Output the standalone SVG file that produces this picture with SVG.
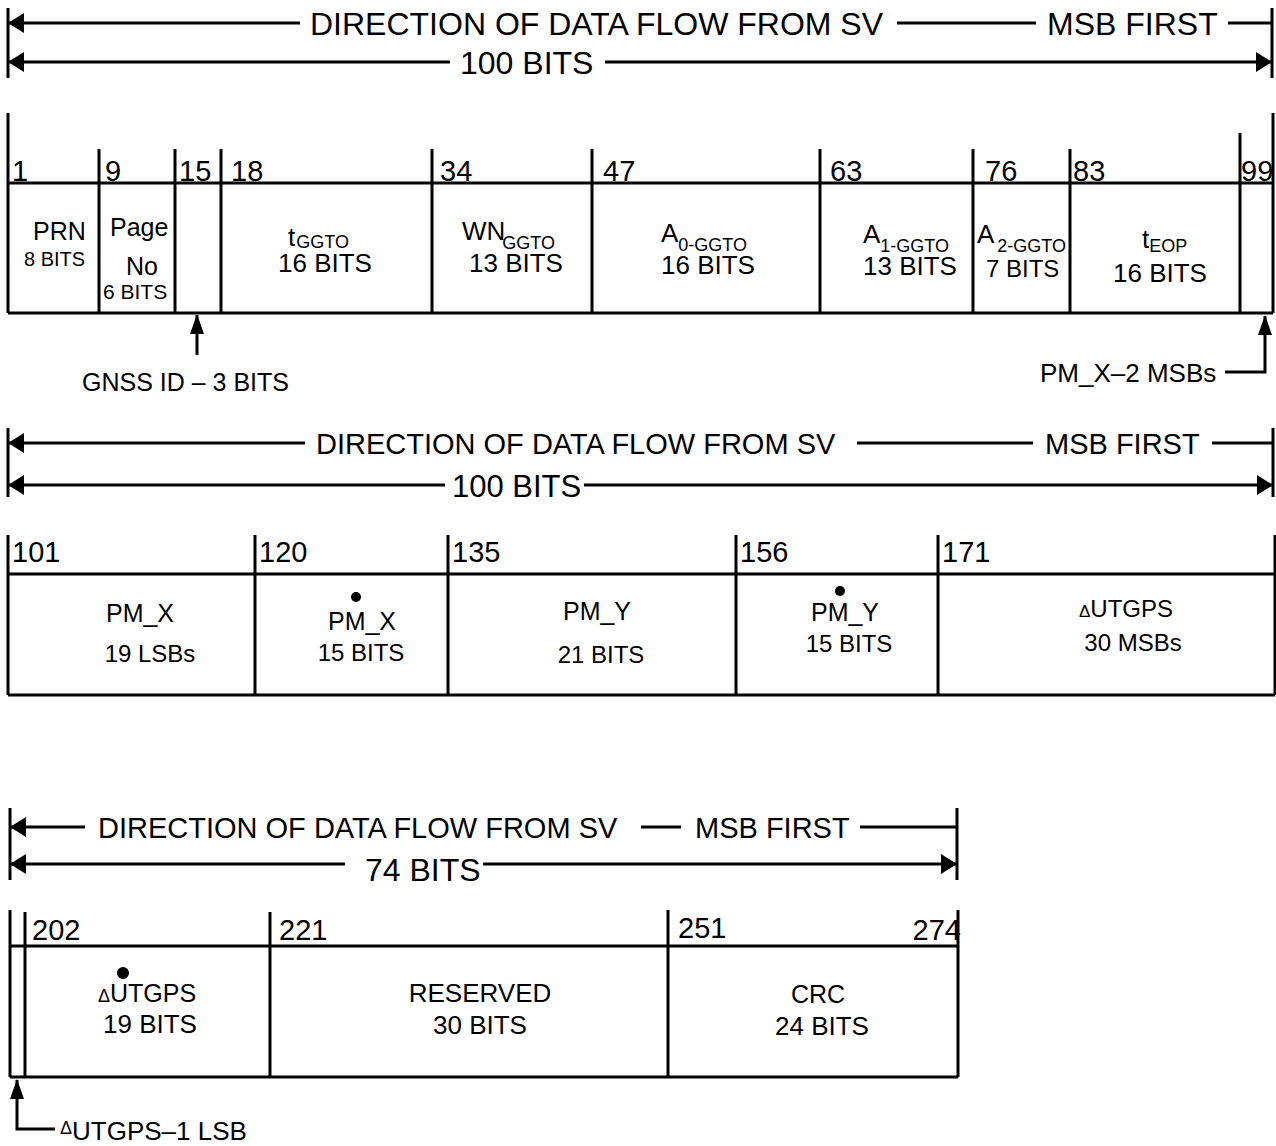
<svg xmlns="http://www.w3.org/2000/svg" width="1276" height="1146" viewBox="0 0 1276 1146">
<style>
.ln{stroke:#000;stroke-width:3;fill:none}
.t{font-family:"Liberation Sans",Arial,sans-serif;fill:#000}
.h1{font-size:32px}
.h2{font-size:29px}
.num{font-size:29px}
.c{font-size:26px}
.s{font-size:18px}
.m{text-anchor:middle}
</style>
<defs>
<marker id="ah" viewBox="0 0 16 20" refX="15" refY="10" markerWidth="16" markerHeight="20" orient="auto" markerUnits="userSpaceOnUse"><path d="M0,0 L16,10 L0,20 Z" fill="#000"/></marker>
<marker id="ahs" viewBox="0 0 20 14" refX="19" refY="7" markerWidth="20" markerHeight="14" orient="auto" markerUnits="userSpaceOnUse"><path d="M0,0 L20,7 L0,14 Z" fill="#000"/></marker>
</defs>
<rect width="1276" height="1146" fill="#fff"/>

<g id="connectors">
<line class="ln" x1="8" y1="8" x2="8" y2="78"/>
<line class="ln" x1="1272" y1="8" x2="1272" y2="78"/>
<line class="ln" x1="300" y1="23" x2="9" y2="23" marker-end="url(#ah)"/>
<line class="ln" x1="897" y1="23" x2="1036" y2="23"/>
<line class="ln" x1="1228" y1="23" x2="1272" y2="23"/>
<line class="ln" x1="450" y1="62" x2="9" y2="62" marker-end="url(#ah)"/>
<line class="ln" x1="605" y1="62" x2="1271" y2="62" marker-end="url(#ah)"/>
<line class="ln" x1="197" y1="355" x2="197" y2="315" marker-end="url(#ahs)"/>
<polyline class="ln" points="1225,372 1265,372 1265,316" marker-end="url(#ahs)"/>
<line class="ln" x1="8" y1="428" x2="8" y2="497"/>
<line class="ln" x1="1273" y1="428" x2="1273" y2="497"/>
<line class="ln" x1="305" y1="443" x2="9" y2="443" marker-end="url(#ah)"/>
<line class="ln" x1="857" y1="443" x2="1033" y2="443"/>
<line class="ln" x1="1212" y1="443" x2="1273" y2="443"/>
<line class="ln" x1="445" y1="485" x2="9" y2="485" marker-end="url(#ah)"/>
<line class="ln" x1="584" y1="485" x2="1272" y2="485" marker-end="url(#ah)"/>
<line class="ln" x1="10" y1="808" x2="10" y2="880"/>
<line class="ln" x1="957" y1="808" x2="957" y2="880"/>
<line class="ln" x1="85" y1="827" x2="11" y2="827" marker-end="url(#ah)"/>
<line class="ln" x1="641" y1="827" x2="681" y2="827"/>
<line class="ln" x1="860" y1="827" x2="957" y2="827"/>
<line class="ln" x1="345" y1="864" x2="11" y2="864" marker-end="url(#ah)"/>
<line class="ln" x1="483" y1="864" x2="956" y2="864" marker-end="url(#ah)"/>
<polyline class="ln" points="55,1129 17,1129 17,1080" marker-end="url(#ahs)"/>
</g>

<g id="header1">
<text class="t h1" x="310" y="35">DIRECTION OF DATA FLOW FROM SV</text>
<text class="t h1" x="1047" y="35">MSB FIRST</text>
<text class="t h1" x="460" y="74">100 BITS</text>
</g>

<g id="row1-frame">
<line class="ln" x1="8" y1="113" x2="8" y2="313"/>
<line class="ln" x1="1273" y1="113" x2="1273" y2="313"/>
<line class="ln" x1="8" y1="183" x2="1273" y2="183"/>
<line class="ln" x1="8" y1="313" x2="1273" y2="313"/>
</g>

<g id="cell-prn">
<text class="t num" x="12" y="181">1</text>
<text class="t" style="font-size:25px" x="33" y="240">PRN</text>
<text class="t" style="font-size:20px" x="24" y="266">8 BITS</text>
</g>
<g id="cell-page">
<line class="ln" x1="99" y1="149" x2="99" y2="313"/>
<text class="t num" x="105" y="181">9</text>
<text class="t" style="font-size:25px" x="110" y="236">Page</text>
<text class="t" style="font-size:25px" x="126" y="275">No</text>
<text class="t" style="font-size:21px" x="103" y="299">6 BITS</text>
</g>
<g id="cell-gnss">
<line class="ln" x1="175" y1="149" x2="175" y2="313"/>
<text class="t num" x="179" y="181">15</text>
</g>
<g id="cell-tggto">
<line class="ln" x1="221" y1="149" x2="221" y2="313"/>
<text class="t num" x="231" y="181">18</text>
<text class="t c" x="288" y="246">t<tspan class="s" dx="1" dy="2">GGTO</tspan></text>
<text class="t c" x="278" y="272">16 BITS</text>
</g>
<g id="cell-wnggto">
<line class="ln" x1="432" y1="149" x2="432" y2="313"/>
<text class="t num" x="440" y="181">34</text>
<text class="t c" x="462" y="240">WN<tspan class="s" dx="-3" dy="9">GGTO</tspan></text>
<text class="t c" x="469" y="272">13 BITS</text>
</g>
<g id="cell-a0">
<line class="ln" x1="592" y1="149" x2="592" y2="313"/>
<text class="t num" x="603" y="181">47</text>
<text class="t c" x="661" y="242">A<tspan class="s" dy="9">0-GGTO</tspan></text>
<text class="t c" x="661" y="274">16 BITS</text>
</g>
<g id="cell-a1">
<line class="ln" x1="820" y1="149" x2="820" y2="313"/>
<text class="t num" x="830" y="181">63</text>
<text class="t c" x="863" y="243">A<tspan class="s" dy="9">1-GGTO</tspan></text>
<text class="t c" x="863" y="275">13 BITS</text>
</g>
<g id="cell-a2">
<line class="ln" x1="973" y1="149" x2="973" y2="313"/>
<text class="t num" x="985" y="181">76</text>
<text class="t c" x="977" y="243">A<tspan class="s" dx="3" dy="9">2-GGTO</tspan></text>
<text class="t" style="font-size:24px" x="986" y="277">7 BITS</text>
</g>
<g id="cell-teop">
<line class="ln" x1="1070" y1="149" x2="1070" y2="313"/>
<text class="t num" x="1073" y="181">83</text>
<text class="t c" x="1142" y="248">t<tspan class="s" dy="4">EOP</tspan></text>
<text class="t c" x="1113" y="282">16 BITS</text>
</g>
<g id="cell-pmx-msb">
<line class="ln" x1="1240" y1="133" x2="1240" y2="313"/>
<text class="t num" x="1241" y="181">99</text>
</g>
<g id="labels1">
<text class="t" style="font-size:25px" x="82" y="391">GNSS ID – 3 BITS</text>
<text class="t" style="font-size:26px" x="1040" y="382">PM_X–2 MSBs</text>
</g>

<g id="header2">
<text class="t h2" x="316" y="454">DIRECTION OF DATA FLOW FROM SV</text>
<text class="t h2" x="1045" y="454">MSB FIRST</text>
<text class="t" style="font-size:31px" x="452" y="497">100 BITS</text>
</g>

<g id="row2-frame">
<line class="ln" x1="8" y1="535" x2="8" y2="695"/>
<line class="ln" x1="1275" y1="535" x2="1275" y2="695"/>
<line class="ln" x1="8" y1="574" x2="1275" y2="574"/>
<line class="ln" x1="8" y1="695" x2="1275" y2="695"/>
</g>
<g id="cell-pmx-lsb">
<text class="t num" x="12" y="562">101</text>
<text class="t m" style="font-size:25px" x="140" y="622">PM_X</text>
<text class="t m" style="font-size:24px" x="150" y="662">19 LSBs</text>
</g>
<g id="cell-pmx-dot">
<line class="ln" x1="255" y1="535" x2="255" y2="695"/>
<text class="t num" x="259" y="562">120</text>
<circle cx="356" cy="597" r="5"/>
<text class="t m" style="font-size:25px" x="362" y="630">PM_X</text>
<text class="t m" style="font-size:24px" x="361" y="661">15 BITS</text>
</g>
<g id="cell-pmy">
<line class="ln" x1="448" y1="535" x2="448" y2="695"/>
<text class="t num" x="452" y="562">135</text>
<text class="t m" style="font-size:25px" x="597" y="620">PM_Y</text>
<text class="t m" style="font-size:24px" x="601" y="663">21 BITS</text>
</g>
<g id="cell-pmy-dot">
<line class="ln" x1="736" y1="535" x2="736" y2="695"/>
<text class="t num" x="740" y="562">156</text>
<circle cx="840" cy="591" r="5"/>
<text class="t m" style="font-size:25px" x="845" y="621">PM_Y</text>
<text class="t m" style="font-size:24px" x="849" y="652">15 BITS</text>
</g>
<g id="cell-dutgps-msb">
<line class="ln" x1="938" y1="535" x2="938" y2="695"/>
<text class="t num" x="942" y="562">171</text>
<text class="t m" style="font-size:24px" x="1126" y="617"><tspan style="font-size:17px">Δ</tspan>UTGPS</text>
<text class="t m" style="font-size:24px" x="1133" y="651">30 MSBs</text>
</g>

<g id="header3">
<text class="t h2" x="98" y="838">DIRECTION OF DATA FLOW FROM SV</text>
<text class="t h2" x="695" y="838">MSB FIRST</text>
<text class="t" style="font-size:32px" x="365" y="881">74 BITS</text>
</g>

<g id="row3-frame">
<line class="ln" x1="10" y1="910" x2="10" y2="1077"/>
<line class="ln" x1="958" y1="910" x2="958" y2="1077"/>
<line class="ln" x1="10" y1="946" x2="958" y2="946"/>
<line class="ln" x1="10" y1="1077" x2="958" y2="1077"/>
</g>
<g id="cell-dutgps-lsb1">
<line class="ln" x1="25" y1="912" x2="25" y2="1077"/>
</g>
<g id="cell-dutgps-dot">
<text class="t num" x="32" y="940">202</text>
<circle cx="123" cy="973" r="6"/>
<text class="t" style="font-size:25px" x="98" y="1002"><tspan style="font-size:18px">Δ</tspan>UTGPS</text>
<text class="t c" x="103" y="1033">19 BITS</text>
</g>
<g id="cell-reserved">
<line class="ln" x1="270" y1="912" x2="270" y2="1077"/>
<text class="t num" x="279" y="940">221</text>
<text class="t c m" x="480" y="1002">RESERVED</text>
<text class="t c m" x="480" y="1034">30 BITS</text>
</g>
<g id="cell-crc">
<line class="ln" x1="668" y1="910" x2="668" y2="1077"/>
<text class="t num" x="678" y="938">251</text>
<text class="t num" x="961" y="940" style="text-anchor:end">274</text>
<text class="t m" style="font-size:25px" x="818" y="1003">CRC</text>
<text class="t c m" x="822" y="1035">24 BITS</text>
</g>
<g id="labels3">
<text class="t" style="font-size:26px" x="60" y="1140"><tspan style="font-size:18px" dy="-6">Δ</tspan><tspan dy="6">UTGPS–1 LSB</tspan></text>
</g>
</svg>
